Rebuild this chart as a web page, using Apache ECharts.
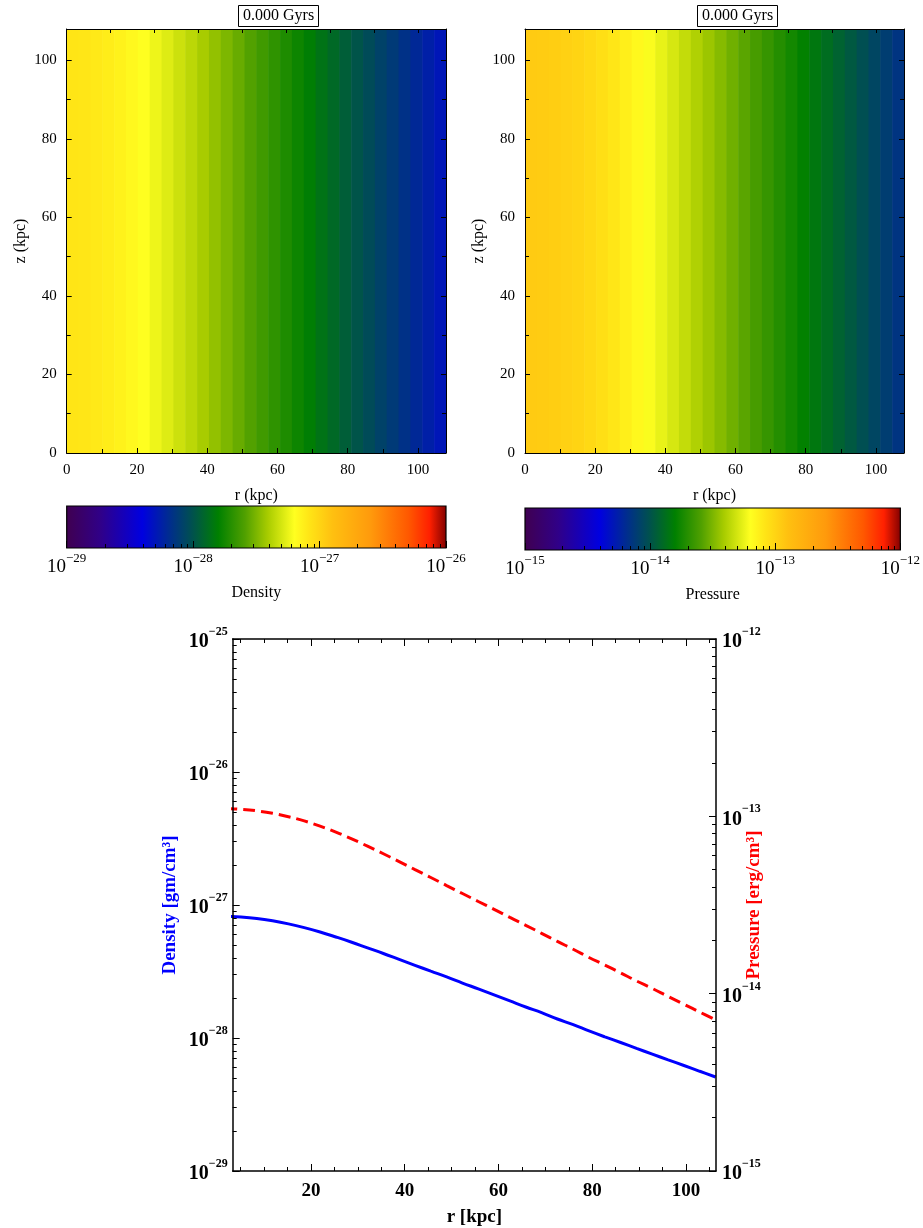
<!DOCTYPE html>
<html><head><meta charset="utf-8">
<script src="https://cdn.jsdelivr.net/npm/echarts@6/dist/echarts.min.js"></script>
<style>html,body{margin:0;padding:0;background:#fff}#c{width:923px;height:1228px}</style>
</head><body><div id="c"></div>
<script>
// ---------- data ----------
const timeLabel = '0.000 Gyrs';
const rCells = [1.69, 5.06, 8.44, 11.81, 15.19, 18.56, 21.94, 25.31, 28.69, 32.06, 35.44, 38.81, 42.19, 45.56, 48.94, 52.31,
  55.69, 59.06, 62.44, 65.81, 69.19, 72.56, 75.94, 79.31, 82.69, 86.06, 89.44, 92.81, 96.19, 99.56, 102.94, 106.31];
const densityCells = [8.22e-28, 8.11e-28, 7.91e-28, 7.60e-28, 7.21e-28, 6.76e-28, 6.27e-28, 5.75e-28, 5.25e-28, 4.76e-28,
  4.32e-28, 3.90e-28, 3.52e-28, 3.18e-28, 2.88e-28, 2.59e-28, 2.34e-28, 2.11e-28, 1.90e-28, 1.71e-28, 1.55e-28, 1.39e-28,
  1.26e-28, 1.13e-28, 1.02e-28, 9.25e-29, 8.36e-29, 7.57e-29, 6.85e-29, 6.21e-29, 5.62e-29, 5.09e-29];
const pressureCells = [1.109e-13, 1.096e-13, 1.074e-13, 1.040e-13, 9.95e-14, 9.42e-14, 8.81e-14, 8.15e-14, 7.46e-14, 6.79e-14,
  6.15e-14, 5.56e-14, 5.01e-14, 4.52e-14, 4.07e-14, 3.67e-14, 3.31e-14, 2.99e-14, 2.69e-14, 2.43e-14, 2.19e-14, 1.97e-14,
  1.78e-14, 1.60e-14, 1.45e-14, 1.31e-14, 1.18e-14, 1.07e-14, 9.64e-15, 8.71e-15, 7.87e-15, 7.11e-15];
const mapRange = [0, 108];                 // r and z extent of the maps (kpc)
const mapTicks = [0, 20, 40, 60, 80, 100];
const mapMinorTicks = [10, 30, 50, 70, 90];
const mapTopTicks = [12.5, 25, 37.5, 50, 62.5, 75, 87.5, 100];
const densityBarExp = [-29, -26];
const pressureBarExp = [-15, -12];
const densityAxisExp = [-29, -25];
const pressureAxisExp = [-15, -12];
const profileRange = [3.3, 106.4];
const profileTicks = [20, 40, 60, 80, 100];
const profileMinorTicks = [5, 10, 15, 25, 30, 35, 45, 50, 55, 65, 70, 75, 85, 90, 95, 105];
const minorMultipliers = [2, 3, 4, 5, 6, 7, 8, 9];
// colour map stops (fraction along colour bar)
const cmapStops = [[0, '#400050'], [0.09, '#300088'], [0.2, '#0000e0'], [0.27, '#002c90'], [0.33, '#005050'], [0.4, '#008000'],
  [0.47, '#50a000'], [0.53, '#a8cc00'], [0.6, '#ffff20'], [0.64, '#ffe416'], [0.7, '#ffc010'], [0.8, '#ff9a0c'], [0.9, '#ff5800'], [0.955, '#ff2000'], [1, '#800000']];

// ---------- helpers ----------
const SERIF = 'Liberation Serif';
function hex(c){return [parseInt(c.slice(1,3),16),parseInt(c.slice(3,5),16),parseInt(c.slice(5,7),16)];}
function colorAt(f){
  f = Math.max(0, Math.min(1, f));
  for (let i = 1; i < cmapStops.length; i++) {
    if (f <= cmapStops[i][0]) {
      const a = cmapStops[i-1], b = cmapStops[i];
      const t = (f - a[0]) / (b[0] - a[0]);
      const ca = hex(a[1]), cb = hex(b[1]);
      return 'rgb(' + ca.map((v,k)=>Math.round(v + (cb[k]-v)*t)).join(',') + ')';
    }
  }
  return cmapStops[cmapStops.length-1][1];
}
function logMinor(range){const out=[];for(let e=range[0];e<range[1];e++)for(const m of minorMultipliers)out.push(e+Math.log10(m));return out;}
function intsIn(range){const out=[];for(let e=range[0];e<=range[1];e++)out.push(e);return out;}
const MINUS = '\u2212';

function ax(gridIndex, position, range, o){
  o = o || {};
  return {
    type:'value', gridIndex, position, min:range[0], max:range[1], z:10,
    splitLine:{show:false},
    axisLine:{show: o.line !== false, onZero:false, lineStyle:{color:'#000', width:o.lineWidth||1}},
    axisTick: o.ticks ? {show:true, inside:true, length:o.tickLen||5, customValues:o.ticks, lineStyle:{color:'#000', width:o.tickWidth||1}} : {show:false},
    axisLabel: o.labels ? Object.assign({show:true, customValues:o.labels}, o.labelStyle) : {show:false},
    name: o.name || '', nameLocation:'middle', nameGap:o.nameGap||30, nameRotate:o.nameRotate, nameMoveOverlap:false,
    nameTextStyle:o.nameStyle || {}
  };
}
const mapLabelStyle = {fontFamily:SERIF, fontSize:15, color:'#000', margin:10};
const mapNameStyle = {fontFamily:SERIF, fontSize:16, color:'#000'};
const cbLabelStyle = {
  margin:4,
  formatter: v => '{b|10}{s|' + MINUS + Math.abs(Math.round(v)) + '}',
  rich:{ b:{fontFamily:SERIF, fontSize:19, color:'#000', padding:[6,0,0,0]}, s:{fontFamily:SERIF, fontSize:13, color:'#000', verticalAlign:'top'} }
};
const boldLabel = (m, align) => ({
  margin:m, align,
  formatter: v => '{b|10}{s|' + MINUS + Math.abs(Math.round(v)) + '}',
  rich:{ b:{fontFamily:SERIF, fontWeight:'bold', fontSize:20, color:'#000', padding:[6,0,0,0]}, s:{fontFamily:SERIF, fontWeight:'bold', fontSize:12, color:'#000', verticalAlign:'top'} }
});

// ---------- grids ----------
const grids = [
  {left:66.7, top:29, width:379.3, height:424},   // density map
  {left:525, top:29, width:379, height:424},      // pressure map
  {left:66.7, top:506, width:379.3, height:42},   // density colour bar
  {left:525, top:508, width:379, height:42},      // pressure colour bar
  {left:232.7, top:639, width:483.3, height:538}  // profiles
];

const xAxes = [
  ax(0,'bottom',mapRange,{ticks:mapTicks, tickLen:5, labels:mapTicks, labelStyle:mapLabelStyle, name:'r (kpc)', nameGap:35, nameStyle:mapNameStyle}),
  ax(0,'bottom',mapRange,{line:false, ticks:mapMinorTicks, tickLen:4}),
  ax(0,'top',mapRange,{ticks:mapTopTicks, tickLen:4}),
  ax(1,'bottom',mapRange,{ticks:mapTicks, tickLen:5, labels:mapTicks, labelStyle:mapLabelStyle, name:'r (kpc)', nameGap:35, nameStyle:mapNameStyle}),
  ax(1,'bottom',mapRange,{line:false, ticks:mapMinorTicks, tickLen:4}),
  ax(1,'top',mapRange,{ticks:mapTopTicks, tickLen:4}),
  ax(2,'bottom',densityBarExp,{line:false, ticks:intsIn(densityBarExp), tickLen:7, labels:intsIn(densityBarExp), labelStyle:cbLabelStyle, name:'Density', nameGap:37, nameStyle:mapNameStyle}),
  ax(2,'bottom',densityBarExp,{line:false, ticks:logMinor(densityBarExp), tickLen:4}),
  ax(3,'bottom',pressureBarExp,{line:false, ticks:intsIn(pressureBarExp), tickLen:7, labels:intsIn(pressureBarExp), labelStyle:cbLabelStyle, name:'Pressure', nameGap:37, nameStyle:mapNameStyle}),
  ax(3,'bottom',pressureBarExp,{line:false, ticks:logMinor(pressureBarExp), tickLen:4}),
  ax(4,'bottom',profileRange,{lineWidth:1.5, ticks:profileTicks, tickLen:7, labels:profileTicks,
    labelStyle:{fontFamily:SERIF, fontWeight:'bold', fontSize:19, color:'#000', margin:11},
    name:'r [kpc]', nameGap:37, nameStyle:{fontFamily:SERIF, fontWeight:'bold', fontSize:19, color:'#000'}}),
  ax(4,'bottom',profileRange,{line:false, ticks:profileMinorTicks, tickLen:4}),
  ax(4,'top',profileRange,{lineWidth:1.5, ticks:profileTicks, tickLen:7}),
  ax(4,'top',profileRange,{line:false, ticks:profileMinorTicks, tickLen:4})
];
const yAxes = [
  ax(0,'left',mapRange,{ticks:mapTicks, tickLen:5, labels:mapTicks, labelStyle:mapLabelStyle, name:'z (kpc)', nameGap:38, nameRotate:90, nameStyle:mapNameStyle}),
  ax(0,'left',mapRange,{line:false, ticks:mapMinorTicks, tickLen:4}),
  ax(0,'right',mapRange,{ticks:mapTicks, tickLen:5}),
  ax(0,'right',mapRange,{line:false, ticks:mapMinorTicks, tickLen:4}),
  ax(1,'left',mapRange,{ticks:mapTicks, tickLen:5, labels:mapTicks, labelStyle:mapLabelStyle, name:'z (kpc)', nameGap:38, nameRotate:90, nameStyle:mapNameStyle}),
  ax(1,'left',mapRange,{line:false, ticks:mapMinorTicks, tickLen:4}),
  ax(1,'right',mapRange,{ticks:mapTicks, tickLen:5}),
  ax(1,'right',mapRange,{line:false, ticks:mapMinorTicks, tickLen:4}),
  ax(2,'left',[0,1],{line:false}),
  ax(3,'left',[0,1],{line:false}),
  ax(4,'left',densityAxisExp,{lineWidth:1.5, ticks:intsIn(densityAxisExp), tickLen:7, labels:intsIn(densityAxisExp), labelStyle:boldLabel(5),
    name:'Density [gm/cm\u00b3]', nameGap:53, nameRotate:90, nameStyle:{fontFamily:SERIF, fontWeight:'bold', fontSize:19, color:'#0000ff'}}),
  ax(4,'left',densityAxisExp,{line:false, ticks:logMinor(densityAxisExp), tickLen:4}),
  ax(4,'right',pressureAxisExp,{lineWidth:1.5, ticks:intsIn(pressureAxisExp), tickLen:7, labels:intsIn(pressureAxisExp), labelStyle:boldLabel(6),
    name:'Pressure [erg/cm\u00b3]', nameGap:29, nameRotate:90, nameStyle:{fontFamily:SERIF, fontWeight:'bold', fontSize:19, color:'#ff0000'}}),
  ax(4,'right',pressureAxisExp,{line:false, ticks:logMinor(pressureAxisExp), tickLen:4})
];

function mapSeries(xi, yi, values, expRange){
  const half = (rCells[1]-rCells[0]) / 2;
  return {
    type:'custom', xAxisIndex:xi, yAxisIndex:yi, z:1, clip:true, silent:true,
    data: rCells.map((r,i)=>[r, Math.log10(values[i])]),
    renderItem(params, api){
      const r = api.value(0);
      const p0 = api.coord([r - half, mapRange[1]]);
      const p1 = api.coord([r + half, mapRange[0]]);
      const f = (api.value(1) - expRange[0]) / (expRange[1] - expRange[0]);
      return {type:'rect', shape:{x:p0[0], y:p0[1], width:p1[0]-p0[0]+0.6, height:p1[1]-p0[1]}, style:{fill:colorAt(f)}};
    }
  };
}
function barSeries(xi, yi, expRange){
  return {
    type:'custom', xAxisIndex:xi, yAxisIndex:yi, z:1, silent:true,
    data:[[expRange[0], expRange[1]]],
    renderItem(params, api){
      const p0 = api.coord([api.value(0), 1]);
      const p1 = api.coord([api.value(1), 0]);
      return {type:'rect', shape:{x:p0[0], y:p0[1], width:p1[0]-p0[0], height:p1[1]-p0[1]},
        style:{fill:new echarts.graphic.LinearGradient(0,0,1,0, cmapStops.map(s=>({offset:s[0], color:s[1]}))), stroke:'#000', lineWidth:1.2}};
    }
  };
}

const titleStyle = {fontFamily:SERIF, fontSize:16, fontWeight:'normal', color:'#000'};
const option = {
  backgroundColor:'#fff',
  animation:false,
  title:[
    {text:timeLabel, left:238, top:5, padding:[3,5,3,5], borderWidth:1, borderColor:'#000', textStyle:titleStyle},
    {text:timeLabel, left:697, top:5, padding:[3,5,3,5], borderWidth:1, borderColor:'#000', textStyle:titleStyle}
  ],
  grid:grids,
  xAxis:xAxes,
  yAxis:yAxes,
  series:[
    mapSeries(0, 0, densityCells, densityBarExp),
    mapSeries(3, 4, pressureCells, pressureBarExp),
    barSeries(6, 8, densityBarExp),
    barSeries(8, 9, pressureBarExp),
    {type:'line', xAxisIndex:10, yAxisIndex:10, showSymbol:false, smooth:0.4, clip:true, z:3,
     data: rCells.map((r,i)=>[r, Math.log10(densityCells[i])]),
     lineStyle:{color:'#0000ff', width:3}},
    {type:'line', xAxisIndex:10, yAxisIndex:12, showSymbol:false, smooth:0.4, clip:true, z:3,
     data: rCells.map((r,i)=>[r, Math.log10(pressureCells[i])]),
     lineStyle:{color:'#ff0000', width:3, type:[12,6]}}
  ]
};
echarts.init(document.getElementById('c'), null, {renderer:'canvas'}).setOption(option);
</script>
</body></html>
